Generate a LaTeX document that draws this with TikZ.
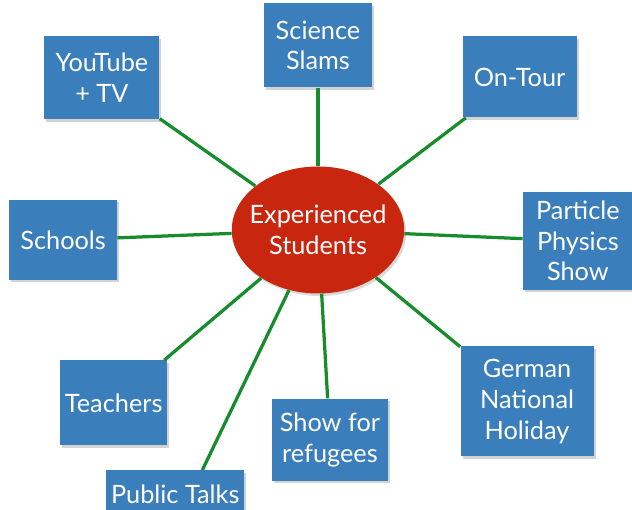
\documentclass[tikz,border=0pt]{standalone}
\usepackage{fontspec}
\setmainfont{Lato}
\usepackage{tikz}
\usetikzlibrary{positioning, shapes.geometric, shadows}
\definecolor{cajaazul}{RGB}{58,126,187}
\definecolor{rojoelipse}{RGB}{200,38,14}
\definecolor{verdearista}{RGB}{22,140,44}
\tikzset{arista/.style={line width=0.65mm, draw=verdearista}}
\tikzset{caja/.style={fill=cajaazul, minimum width=21.6mm, minimum height=16.4mm,
  drop shadow={opacity=0.35, shadow xshift=0.4mm, shadow yshift=-0.5mm}}}

\begin{document}
\begin{tikzpicture}[scale = 1, every node/.style={text=white, align=center, inner sep=1mm, font=\fontsize{14.4}{17.5}\selectfont}]
            \useasboundingbox (-6.36,4.60) rectangle (6.28,-5.60);
            \node[ellipse, fill=rojoelipse, minimum width=34.4mm, minimum height=25.4mm, inner xsep=-1.5mm, inner ysep=0mm,
              drop shadow={opacity=0.3, shadow xshift=0.4mm, shadow yshift=-0.5mm}] (0) at (0,0) {Experienced\\Students};
            \node[caja, minimum height=16.8mm, above = 15.7mm of 0] (1) {Science\\Slams};
            \node[caja, minimum width=23mm, minimum height=16.6mm, above left = 13mm and 19.4mm of 0] (2) {YouTube\\+ TV};
            \node[caja, minimum width=22.8mm, minimum height=16.2mm, above right = 13.4mm and 16.6mm of 0] (3) {On-Tour};
            \node[caja, minimum height=16mm, left = 22.8mm of 0, yshift=-2mm] (4) {Schools};
            \node[caja, minimum width=22mm, minimum height=19.6mm, right = 23.6mm of 0, yshift=-2.2mm] (5) {Particle\\Physics\\Show};
            \node[caja, minimum width=21.2mm, minimum height=17mm, below left = 17mm and 17.8mm of 0] (6) {Teachers};
            \node[caja, minimum width=23.2mm, below = 20.9mm of 0, xshift=2.4mm] (7) {Show for\\refugees};
            \node[caja, minimum width=26.6mm, minimum height=22mm, below right = 14.2mm and 16.2mm of 0] (8) {German\\National\\Holiday};
            \node[caja, minimum width=26mm, minimum height=9.6mm, below left = 39mm and 2.4mm of 0] (9) {Public Talks};

            \draw[arista] (0) to (1);
            \draw[arista] (0) to (2);
            \draw[arista] (0) to (3);
            \draw[arista] (0) to (4);
            \draw[arista] (0) to (5);
            \draw[arista] (0) to (6);
            \draw[arista] (0) to (7);
            \draw[arista] (0) to (8);
            \draw[arista] (0) to (9.42);
        \end{tikzpicture}
\end{document}
